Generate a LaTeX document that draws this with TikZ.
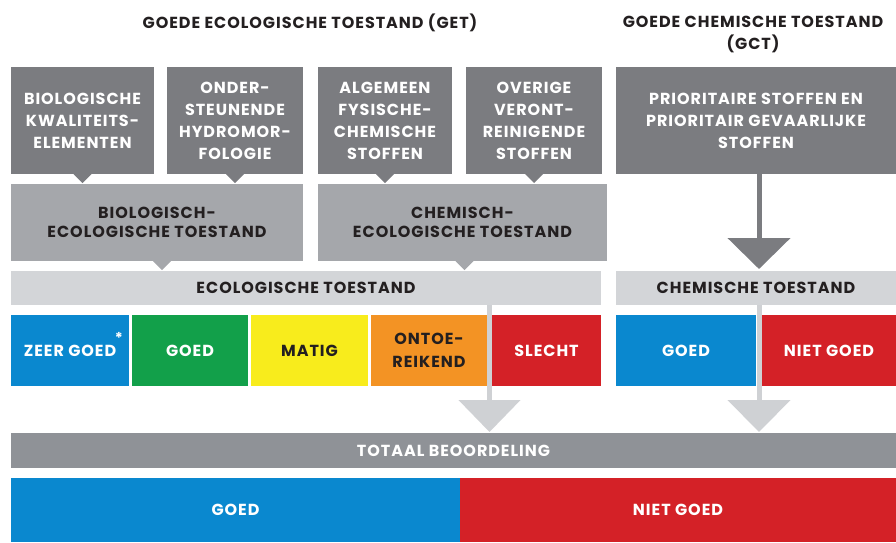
\documentclass[tikz,border=0pt]{standalone}
\usepackage{fontspec}
\setmainfont{Poppins}[LetterSpace=6]
\usetikzlibrary{calc,arrows.meta}
\definecolor{dkg}{HTML}{7B7C80}
\definecolor{mdg}{HTML}{A5A7AB}
\definecolor{ltg}{HTML}{D3D5D8}
\definecolor{totg}{HTML}{8F9297}
\definecolor{arrlt}{HTML}{CFD1D4}
\definecolor{cblue}{HTML}{0A88CF}
\definecolor{cgreen}{HTML}{12A04A}
\definecolor{cyellow}{HTML}{F8EC1C}
\definecolor{corange}{HTML}{F39324}
\definecolor{cred}{HTML}{D42127}
\definecolor{txt}{HTML}{231F20}
\tikzset{
  base/.style={inner sep=0pt, outer sep=0pt, align=center, font=\bfseries\fontsize{16}{22}\selectfont},
  topbox/.style={base, fill=dkg, text=white, minimum height=107pt},
  midbox/.style={base, fill=mdg, text=txt, minimum width=0pt, minimum height=77pt, font=\bfseries\fontsize{16}{19}\selectfont},
  band/.style={base, fill=ltg, text=txt, minimum height=34pt},
  cell/.style={base, minimum height=71pt},
  title/.style={base, text=txt, font=\bfseries\fontsize{16}{22}\selectfont},
  shaft/.style={line width=5pt},
}
\begin{document}
\begin{tikzpicture}[x=1pt,y=-1pt]
\useasboundingbox (0,0) rectangle (896,542);
% titles
\node[title] (t1) at (310,23) {GOEDE ECOLOGISCHE TOESTAND (GET)};
\node[title] (t2) at (753,34) {GOEDE CHEMISCHE TOESTAND\\(GCT)};
% top boxes
\node[topbox, minimum width=143pt] (b1) at (82.5,120.5) {BIOLOGISCHE\\KWALITEITS-\\ELEMENTEN};
\node[topbox, minimum width=136pt] (b2) at (235,120.5) {ONDER-\\STEUNENDE\\HYDROMOR-\\FOLOGIE};
\node[topbox, minimum width=134pt] (b3) at (385,120.5) {ALGEMEEN\\FYSISCHE-\\CHEMISCHE\\STOFFEN};
\node[topbox, minimum width=136pt] (b4) at (534,120.5) {OVERIGE\\VERONT-\\REINIGENDE\\STOFFEN};
\node[topbox, minimum width=280pt] (b5) at (756,120.5) {PRIORITAIRE STOFFEN EN\\PRIORITAIR GEVAARLIJKE\\STOFFEN};
\foreach \b in {b1,b2,b3,b4}{
  \fill[dkg] ($(\b.south)+(-9,0)$) -- ($(\b.south)+(9,0)$) -- ($(\b.south)+(0,9)$) -- cycle;
}
% middle boxes
\node[midbox, minimum width=292pt] (bio) at (157,222.5) {BIOLOGISCH-\\ECOLOGISCHE TOESTAND};
\node[midbox, minimum width=289pt] (che) at (462.5,222.5) {CHEMISCH-\\ECOLOGISCHE TOESTAND};
\fill[mdg] ($(bio.south)+(-4,0)$) -- ($(bio.south)+(14,0)$) -- ($(bio.south)+(5,9)$) -- cycle;
\fill[mdg] ($(che.south)+(-7,0)$) -- ($(che.south)+(11,0)$) -- ($(che.south)+(2,9)$) -- cycle;
% bands
\node[band, minimum width=590pt] (eco) at (306,288) {ECOLOGISCHE TOESTAND};
\node[band, minimum width=280pt] (chb) at (756,288) {CHEMISCHE TOESTAND};
% colour row
\node[cell, fill=cblue, text=white, minimum width=118pt] (zg) at (70,350.5) {ZEER GOED};
\node[base, text=white, font=\bfseries\fontsize{15}{15}\selectfont] (ast) at (119,338) {*};
\node[cell, fill=cgreen, text=white, minimum width=116pt] (gd) at (190,350.5) {GOED};
\node[cell, fill=cyellow, text=txt, minimum width=117pt] (mt) at (309.5,350.5) {MATIG};
\node[cell, fill=corange, text=txt, minimum width=116pt, font=\bfseries\fontsize{16}{23}\selectfont] (on) at (429,350.5) {ONTOE-\\REIKEND};
\node[cell, fill=cred, text=white, minimum width=109pt] (sl) at (546.5,350.5) {SLECHT};
\node[cell, fill=cblue, text=white, minimum width=140pt] (cg) at (686,350.5) {GOED};
\node[cell, fill=cred, text=white, minimum width=134pt] (cn) at (829,350.5) {NIET GOED};
% totaal
\node[base, fill=totg, text=white, minimum width=885pt, minimum height=35pt] (tot) at (453.5,450.5) {TOTAAL BEOORDELING};
% bottom
\node[base, fill=cblue, text=white, minimum width=449pt, minimum height=64pt] (fg) at (235.5,510) {GOED};
\node[base, fill=cred, text=white, minimum width=436pt, minimum height=64pt] (fn) at (678,510) {NIET GOED};
% arrows
\coordinate (xa) at (489.5,0);
\coordinate (xb) at (759,0);
\draw[shaft, dkg, -{Triangle[width=62pt,length=31pt]}] (b5.south -| xb) -- ($(chb.north -| xb)+(0,-2)$);
\draw[shaft, arrlt, -{Triangle[width=61pt,length=32pt]}] (eco.south -| xa) -- ($(tot.north -| xa)+(0,-1)$);
\draw[shaft, arrlt, -{Triangle[width=62pt,length=32pt]}] (chb.south -| xb) -- ($(tot.north -| xb)+(0,-1)$);
\end{tikzpicture}
\end{document}
